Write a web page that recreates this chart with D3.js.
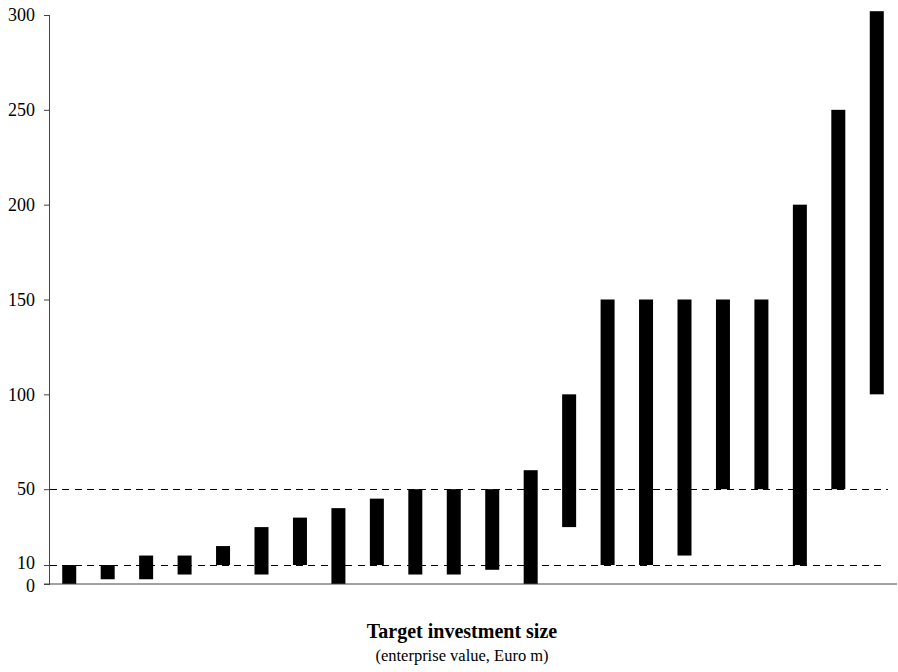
<!DOCTYPE html>
<html>
<head>
<meta charset="utf-8">
<script src="https://cdn.jsdelivr.net/npm/d3@7"></script>
<style>
  html, body { margin: 0; padding: 0; background: #fff; }
  svg { display: block; }
  text { font-family: "Liberation Serif", "Times New Roman", serif; }
</style>
</head>
<body>
<svg id="chart" width="898" height="672"></svg>
<script>
// ---- data ----
const categories = ["1","2","3","4","5","6","7","8","9","10","11","12","13","14","15","16","17","18","19","20","21","22"];
const lowValues  = [0, 2.5, 2.5, 5, 10, 5, 10, 0, 10, 5, 5, 7.5, 0, 30, 10, 10, 15, 50, 50, 10, 50, 100];
const highValues = [10, 10, 15, 15, 20, 30, 35, 40, 45, 50, 50, 50, 60, 100, 150, 150, 150, 150, 150, 200, 250, 302];
const yTicks = [0, 10, 50, 100, 150, 200, 250, 300];
const referenceLines = [50, 10];
const titleText = "Target investment size";
const subtitleText = "(enterprise value, Euro m)";

(function () {
const rows = categories.map((c, i) => ({ cat: c, low: lowValues[i], high: highValues[i] }));

// ---- layout ----
const svg = d3.select("#chart");
const mLeft = 50, mRight = 896, mTop = 15, mBottom = 584;

const x = d3.scaleBand()
  .domain(categories)
  .range([mLeft, mRight])
  .paddingInner(0.636)
  .paddingOuter(0.318);

const y = d3.scaleLinear().domain([0, 300]).range([mBottom, mTop]);

// reference dashed lines
const refEnds = { 50: 888, 10: 881 };
svg.append("g").selectAll("line")
  .data(referenceLines)
  .join("line")
  .attr("x1", mLeft)
  .attr("x2", d => refEnds[d] || 888)
  .attr("y1", d => Math.round(y(d)) + 0.5)
  .attr("y2", d => Math.round(y(d)) + 0.5)
  .attr("stroke", "#000")
  .attr("stroke-width", 1.2)
  .attr("shape-rendering", "crispEdges")
  .attr("stroke-dasharray", "7,5.3");

// bars (floating ranges)
svg.append("g").selectAll("rect")
  .data(rows)
  .join("rect")
  .attr("x", d => x(d.cat))
  .attr("width", x.bandwidth())
  .attr("y", d => y(d.high))
  .attr("height", d => y(d.low) - y(d.high))
  .attr("fill", "#000");

// y axis
const yAxis = d3.axisLeft(y)
  .tickValues(yTicks)
  .tickSize(6)
  .tickPadding(9)
  .tickFormat(d3.format("d"));

const gy = svg.append("g")
  .attr("transform", `translate(${mLeft},0)`)
  .attr("font-family", "'Liberation Serif', 'Times New Roman', serif")
  .call(yAxis);
gy.attr("font-family", "'Liberation Serif', 'Times New Roman', serif");
gy.select(".domain").attr("stroke", "#444").attr("d", `M-0.5,${mTop}V${mBottom}`);
gy.selectAll(".tick line").attr("stroke", "#444");
gy.selectAll(".tick text")
  .attr("font-size", 18)
  .attr("fill", "#000")
  .attr("dy", d => d === 10 ? "0.18em" : d === 0 ? "0.4em" : "0.32em");

// x axis baseline
svg.append("line")
  .attr("x1", mLeft - 6)
  .attr("x2", 897)
  .attr("y1", y(0))
  .attr("y2", y(0))
  .attr("stroke", "#444")
  .attr("stroke-width", 1);

// titles
svg.append("text")
  .attr("x", 462)
  .attr("y", 638)
  .attr("text-anchor", "middle")
  .attr("font-size", 20)
  .attr("font-weight", "bold")
  .text(titleText);

svg.append("text")
  .attr("x", 462)
  .attr("y", 661)
  .attr("text-anchor", "middle")
  .attr("font-size", 16.5)
  .text(subtitleText);
})();
</script>
</body>
</html>
